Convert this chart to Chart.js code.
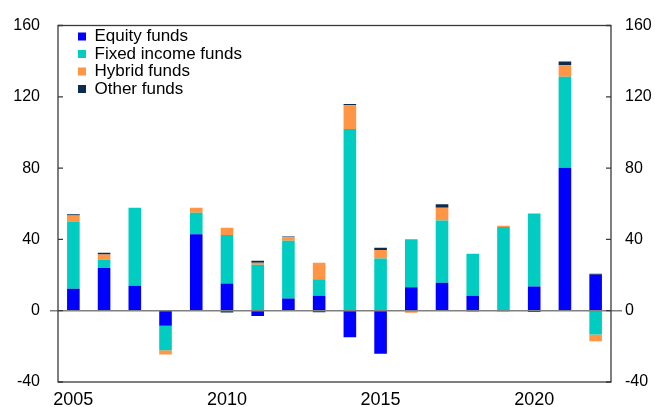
<!DOCTYPE html>
<html>
<head>
<meta charset="utf-8">
<script src="https://cdn.jsdelivr.net/npm/chart.js@4/dist/chart.umd.min.js"></script>
<style>
html,body{margin:0;padding:0;background:#fff;}
#wrap{width:655px;height:407px;}
</style>
</head>
<body>
<div id="wrap"><canvas id="c" width="655" height="407"></canvas></div>
<script>
// ---- data ----
const years = [2005,2006,2007,2008,2009,2010,2011,2012,2013,2014,2015,2016,2017,2018,2019,2020,2021,2022];
const xTickYears = [2005,2010,2015,2020];
const yTickValues = [-40,0,40,80,120,160];
const seriesNames = ['Equity funds','Fixed income funds','Hybrid funds','Other funds'];
const equityFunds      = [12.3, 23.9, 14.0, -8.4, 42.9, 15.3, -3.0,  6.9,  8.4, -14.9, -24.1, 13.1, 15.7,  8.4, -0.3, 13.6, 80.2,  20.2];
const fixedIncomeFunds = [37.7,  4.8, 43.7,-13.8, 12.1, 27.1, 25.8, 32.3,  9.3, 101.9,  29.3, 27.0, 34.9, 23.5, 46.9, 40.9, 51.0, -13.4];
const hybridFunds      = [ 3.4,  2.8,  0.0, -2.4,  2.7,  4.1,  1.1,  2.0,  9.2,  13.4,   4.7, -1.1,  7.1, -0.7,  0.7,  0.0,  6.5,  -3.8];
const otherFunds       = [ 0.7,  1.0,  0.0,  0.3,  0.0, -1.0,  1.1,  0.4, -0.8,   0.6,   1.3,  0.0,  2.0,  0.0,  0.0, -0.7,  2.1,   0.5];
const seriesColors = ['#0000FF','#00CCC2','#FF9545','#0C2C4E'];

Chart.defaults.font.family = "'Liberation Sans', Arial, sans-serif";
Chart.defaults.color = '#000';

const seriesData = [equityFunds, fixedIncomeFunds, hybridFunds, otherFunds];

const framePlugin = {
  id: 'frame',
  afterLayout(chart) {
    const lg = chart.legend, a = chart.chartArea;
    if (lg) {
      const w = lg.width, h = lg.height;
      lg.left = a.left + 19.5; lg.right = lg.left + w;
      lg.top = a.top + 2; lg.bottom = lg.top + h;
    }
  },
  afterDatasetsDraw(chart) {
    const {ctx, chartArea: a, scales} = chart;
    const y = scales.y;
    ctx.save();
    // zero line
    const z = y.getPixelForValue(0);
    ctx.strokeStyle = '#808080';
    ctx.lineWidth = 1.5;
    ctx.beginPath();
    ctx.moveTo(a.left - 8, z);
    ctx.lineTo(a.right + 11, z);
    ctx.stroke();
    // frame
    ctx.strokeStyle = '#3a3a3a';
    ctx.lineWidth = 1.3;
    ctx.strokeRect(a.left, a.top, a.right - a.left, a.bottom - a.top);
    // inward tick marks
    ctx.beginPath();
    y.ticks.forEach(t => {
      const p = y.getPixelForValue(t.value);
      ctx.moveTo(a.left, p); ctx.lineTo(a.left + 5, p);
      ctx.moveTo(a.right - 5, p); ctx.lineTo(a.right, p);
    });
    ctx.stroke();
    ctx.restore();
  }
};

const yAxisBase = (pos, pad, w) => ({
  position: pos,
  min: -40, max: 160,
  grid: {display: false, drawTicks: false},
  border: {display: false},
  afterBuildTicks: s => { s.ticks = yTickValues.map(v => ({value: v})); },
  ticks: {font: {size: 16}, color: '#000', padding: pad},
  afterFit: s => { s.width = w; s.paddingTop = 0; s.paddingBottom = 0; }
});

new Chart(document.getElementById('c'), {
  type: 'bar',
  data: {
    labels: years,
    datasets: seriesNames.map((name, i) => ({
      label: name,
      data: seriesData[i],
      backgroundColor: seriesColors[i],
      borderWidth: 0,
      barPercentage: 0.41,
      categoryPercentage: 1.0,
      yAxisID: 'y'
    }))
  },
  options: {
    responsive: false,
    devicePixelRatio: 1,
    animation: false,
    layout: {autoPadding: false, padding: {top: 25.5, left: 0, right: 0, bottom: 0}},
    plugins: {
      tooltip: {enabled: false},
      legend: {
        position: 'chartArea',
        align: 'start',
        labels: {boxWidth: 8, boxHeight: 8, padding: 0.5, color: '#000', font: {size: 17}}
      }
    },
    scales: {
      x: {
        stacked: true,
        offset: true,
        grid: {display: false, drawTicks: false},
        border: {display: false},
        ticks: {
          autoSkip: false, maxRotation: 0, font: {size: 18}, color: '#000', padding: 7,
          callback: function(v) { const l = this.getLabelForValue(v); return xTickYears.includes(l) ? String(l) : ''; }
        },
        afterFit: s => { s.height = 25; }
      },
      y: Object.assign(yAxisBase('left', 18, 58), {stacked: true}),
      y2: yAxisBase('right', 14, 44)
    }
  },
  plugins: [framePlugin]
});
</script>
</body>
</html>
